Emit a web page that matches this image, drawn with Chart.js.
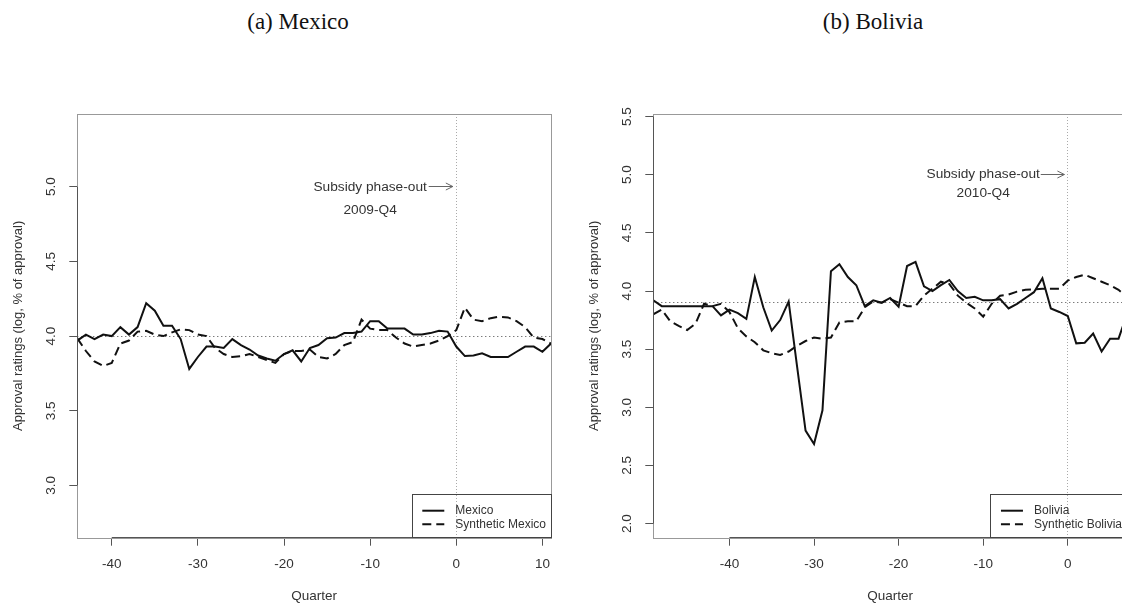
<!DOCTYPE html>
<html>
<head>
<meta charset="utf-8">
<title>Approval ratings - synthetic control</title>
<script src="https://cdn.jsdelivr.net/npm/chart.js@4.4.1/dist/chart.umd.min.js"></script>
<style>
  html, body { margin: 0; padding: 0; background: #fff; overflow: hidden; width: 1122px; height: 604px; }
  .panel { position: absolute; top: 0; }
  .caption {
    position: absolute; top: 9px; line-height: 26px;
    font-family: 'Liberation Serif', 'Times New Roman', serif; font-size: 23px; color: #111;
    transform: translateX(-50%); white-space: nowrap;
  }
</style>
</head>
<body>
<div class="caption" style="left:298px">(a) Mexico</div>
<div class="caption" style="left:873px">(b) Bolivia</div>
<canvas id="mexChart" class="panel" style="left:0px" width="565" height="604"></canvas>
<canvas id="bolChart" class="panel" style="left:576px" width="565" height="604"></canvas>

<script>
// ----------------------------
// data (quarters relative to the subsidy phase-out)
// ----------------------------
const quartersMexico = [-44, -43, -42, -41, -40, -39, -38, -37, -36, -35, -34, -33, -32, -31, -30, -29, -28, -27, -26, -25,
    -24, -23, -22, -21, -20, -19, -18, -17, -16, -15, -14, -13, -12, -11, -10, -9, -8, -7, -6, -5,
    -4, -3, -2, -1, 0, 1, 2, 3, 4, 5, 6, 7, 8, 9, 10, 11];
const mexico = [3.97, 4.01, 3.98, 4.01, 4.00, 4.06, 4.01, 4.06, 4.22, 4.17, 4.07, 4.07, 3.98, 3.78, 3.86, 3.93, 3.93, 3.92, 3.98, 3.94,
    3.91, 3.87, 3.85, 3.835, 3.88, 3.905, 3.83, 3.92, 3.94, 3.985, 3.99, 4.02, 4.02, 4.03, 4.10, 4.10, 4.05, 4.05, 4.05, 4.01,
    4.01, 4.02, 4.035, 4.03, 3.93, 3.866, 3.87, 3.885, 3.86, 3.86, 3.86, 3.895, 3.93, 3.93, 3.895, 3.95];
const syntheticMexico = [3.985, 3.90, 3.83, 3.80, 3.82, 3.95, 3.97, 4.03, 4.035, 4.01, 4.00, 4.025, 4.045, 4.04, 4.01, 4.00, 3.92, 3.88, 3.86, 3.865,
    3.88, 3.86, 3.84, 3.82, 3.88, 3.90, 3.90, 3.91, 3.86, 3.85, 3.88, 3.94, 3.96, 4.11, 4.05, 4.04, 4.04, 3.99, 3.95, 3.93,
    3.94, 3.95, 3.97, 4.00, 4.04, 4.19, 4.11, 4.10, 4.12, 4.13, 4.125, 4.10, 4.06, 3.99, 3.98, 3.95];

const quartersBolivia = [-49, -48, -47, -46, -45, -44, -43, -42, -41, -40, -39, -38, -37, -36, -35, -34, -33, -32, -31, -30,
    -29, -28, -27, -26, -25, -24, -23, -22, -21, -20, -19, -18, -17, -16, -15, -14, -13, -12, -11, -10,
    -9, -8, -7, -6, -5, -4, -3, -2, -1, 0, 1, 2, 3, 4, 5, 6, 7];
const bolivia = [3.92, 3.87, 3.87, 3.87, 3.87, 3.87, 3.87, 3.87, 3.79, 3.84, 3.81, 3.76, 4.12, 3.86, 3.66, 3.75, 3.91, 3.35, 2.80, 2.685,
    2.975, 4.17, 4.23, 4.12, 4.05, 3.87, 3.92, 3.90, 3.94, 3.865, 4.215, 4.25, 4.04, 4.00, 4.05, 4.095, 4.00, 3.94, 3.95, 3.92,
    3.92, 3.93, 3.85, 3.89, 3.94, 3.99, 4.11, 3.85, 3.82, 3.785, 3.55, 3.555, 3.635, 3.48, 3.59, 3.59, 3.80];
const syntheticBolivia = [3.80, 3.84, 3.74, 3.70, 3.665, 3.72, 3.89, 3.87, 3.89, 3.82, 3.68, 3.61, 3.56, 3.49, 3.465, 3.45, 3.48, 3.53, 3.57, 3.60,
    3.59, 3.60, 3.73, 3.74, 3.74, 3.86, 3.91, 3.90, 3.93, 3.90, 3.87, 3.87, 3.96, 4.02, 4.08, 4.06, 3.96, 3.90, 3.85, 3.78,
    3.89, 3.96, 3.97, 3.995, 4.01, 4.015, 4.02, 4.02, 4.02, 4.09, 4.12, 4.14, 4.11, 4.08, 4.05, 4.01, 3.95];

const xTicksMexico = [-40, -30, -20, -10, 0, 10];
const yTicksMexico = [3.0, 3.5, 4.0, 4.5, 5.0];
const xTicksBolivia = [-40, -30, -20, -10, 0];
const yTicksBolivia = [2.0, 2.5, 3.0, 3.5, 4.0, 4.5, 5.0, 5.5];

const FONT = "'Liberation Sans', Arial, sans-serif";
const INK = '#333';

// ----------------------------
// frame, reference lines, rotated y labels, note and legend
// ----------------------------
function seg(ctx, x1, y1, x2, y2) {
    ctx.beginPath();
    ctx.moveTo(x1, y1);
    ctx.lineTo(x2, y2);
    ctx.stroke();
}
const crisp = v => Math.floor(v) + 0.5;

const frame = {
    id: 'frame',
    beforeDatasetsDraw(chart, args, opts) {
        const { ctx, chartArea: a, scales: { x, y } } = chart;
        ctx.save();
        ctx.lineWidth = 1;
        ctx.strokeStyle = '#444';
        ctx.setLineDash([1, 3]);
        const yb = crisp(y.getPixelForValue(opts.baseline));
        seg(ctx, a.left, yb, a.right, yb);
        ctx.strokeStyle = '#aaa';
        ctx.setLineDash([1, 2]);
        const x0 = crisp(x.getPixelForValue(0));
        seg(ctx, x0, a.top, x0, a.bottom);
        ctx.restore();
    },
    afterDatasetsDraw(chart, args, opts) {
        const { ctx, chartArea: a, scales: { x, y } } = chart;
        ctx.save();
        ctx.lineWidth = 1;
        // box
        ctx.strokeStyle = '#999';
        ctx.strokeRect(crisp(a.left), crisp(a.top), Math.round(a.right - a.left), Math.round(a.bottom - a.top));
        // axis lines between first and last tick
        ctx.strokeStyle = '#555';
        const xt = x.ticks, yt = y.ticks;
        seg(ctx, x.getPixelForValue(xt[0].value), crisp(a.bottom), x.getPixelForValue(xt[xt.length - 1].value), crisp(a.bottom));
        seg(ctx, crisp(a.left), y.getPixelForValue(yt[0].value), crisp(a.left), y.getPixelForValue(yt[yt.length - 1].value));

        // y tick labels, rotated like the R default
        ctx.fillStyle = INK;
        ctx.font = '13.5px ' + FONT;
        ctx.textAlign = 'center';
        ctx.textBaseline = 'middle';
        yt.forEach(t => {
            ctx.save();
            ctx.translate(a.left - 26, y.getPixelForValue(t.value));
            ctx.rotate(-Math.PI / 2);
            ctx.fillText(t.value.toFixed(1), 0, 0);
            ctx.restore();
        });

        // phase-out note with arrow
        ctx.font = '13.7px ' + FONT;
        const nx = x.getPixelForValue(opts.noteX);
        ctx.fillText('Subsidy phase-out', nx, y.getPixelForValue(opts.noteY));
        ctx.fillText(opts.noteDate, nx, y.getPixelForValue(opts.noteY2));
        const ay = crisp(y.getPixelForValue(opts.noteY));
        const ax1 = x.getPixelForValue(opts.arrowFrom), ax2 = x.getPixelForValue(opts.arrowTo);
        ctx.strokeStyle = '#666';
        seg(ctx, ax1, ay, ax2, ay);
        seg(ctx, ax2 - 7, ay - 3.5, ax2, ay);
        seg(ctx, ax2 - 7, ay + 3.5, ax2, ay);

        // legend, bottom right, no fill
        ctx.font = '12px ' + FONT;
        ctx.textAlign = 'left';
        const sets = chart.data.datasets;
        const textW = Math.max(...sets.map(d => ctx.measureText(d.label).width));
        const bw = 43 + textW + 5, bh = 43;
        const bx = a.right - bw, by = a.bottom - bh;
        ctx.strokeStyle = '#444';
        ctx.strokeRect(crisp(bx), crisp(by), Math.round(bw), Math.round(bh));
        sets.forEach((d, i) => {
            const ly = by + 16 + i * 13.5;
            ctx.strokeStyle = '#111';
            ctx.lineWidth = 2;
            ctx.setLineDash(d.borderDash || []);
            seg(ctx, bx + 10, ly, bx + 32, ly);
            ctx.setLineDash([]);
            ctx.fillText(d.label, bx + 43, ly);
        });
        ctx.restore();
    }
};

function makePanel(id, p) {
    return new Chart(document.getElementById(id), {
        type: 'line',
        data: {
            datasets: [
                {
                    label: p.name,
                    data: p.quarters.map((q, i) => ({ x: q, y: p.actual[i] })),
                    borderColor: '#111',
                    borderWidth: 2,
                    pointRadius: 0,
                    tension: 0
                },
                {
                    label: 'Synthetic ' + p.name,
                    data: p.quarters.map((q, i) => ({ x: q, y: p.synthetic[i] })),
                    borderColor: '#111',
                    borderWidth: 2,
                    borderDash: [9, 5],
                    pointRadius: 0,
                    tension: 0
                }
            ]
        },
        options: {
            responsive: false,
            animation: false,
            events: [],
            layout: { padding: { top: 114, right: 14, bottom: 0, left: 0 } },
            plugins: {
                legend: { display: false },
                tooltip: { enabled: false },
                frame: {
                    baseline: p.baseline,
                    noteX: -10, noteY: 5.0, noteY2: 4.845, noteDate: p.date,
                    arrowFrom: -3.2, arrowTo: -0.4
                }
            },
            scales: {
                x: {
                    type: 'linear',
                    min: p.xMin,
                    max: p.xMax,
                    afterBuildTicks: s => { s.ticks = p.xTicks.map(v => ({ value: v })); },
                    afterFit: s => { s.height = 66.3; },
                    border: { display: false },
                    grid: { drawOnChartArea: false, drawTicks: true, tickLength: 8, tickColor: '#555' },
                    ticks: {
                        color: INK, font: { family: FONT, size: 13.5 }, padding: 10,
                        maxRotation: 0, autoSkip: false, callback: v => String(v)
                    },
                    title: { display: true, text: 'Quarter', color: INK, font: { family: FONT, size: 13.5 }, padding: { top: 0, bottom: 0 } }
                },
                y: {
                    type: 'linear',
                    min: p.yMin,
                    max: p.yMax,
                    afterBuildTicks: s => { s.ticks = p.yTicks.map(v => ({ value: v })); },
                    afterFit: s => { s.width = 77.3; },
                    border: { display: false },
                    grid: { drawOnChartArea: false, drawTicks: true, tickLength: 8, tickColor: '#555' },
                    ticks: { display: false },
                    title: {
                        display: true, text: 'Approval ratings (log, % of approval)', color: INK,
                        font: { family: FONT, size: 13 }, padding: { top: 10.7, bottom: 0 }
                    }
                }
            }
        },
        plugins: [frame]
    });
}

makePanel('mexChart', {
    name: 'Mexico', quarters: quartersMexico, actual: mexico, synthetic: syntheticMexico,
    xMin: -44, xMax: 11, yMin: 2.65, yMax: 5.487, xTicks: xTicksMexico, yTicks: yTicksMexico,
    baseline: 4.0, date: '2009-Q4'
});
makePanel('bolChart', {
    name: 'Bolivia', quarters: quartersBolivia, actual: bolivia, synthetic: syntheticBolivia,
    xMin: -49, xMax: 7, yMin: 1.879, yMax: 5.522, xTicks: xTicksBolivia, yTicks: yTicksBolivia,
    baseline: 3.9, date: '2010-Q4'
});
</script>
</body>
</html>
